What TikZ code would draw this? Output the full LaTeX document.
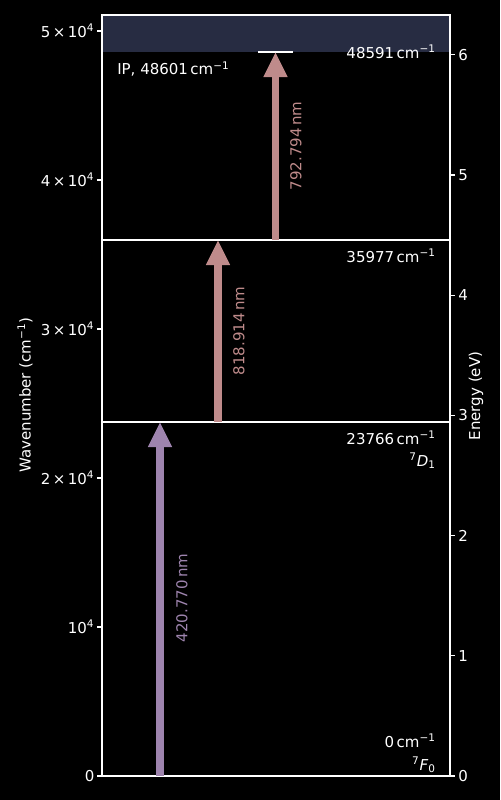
\documentclass[tikz,border=0pt]{standalone}
\usepackage{fontspec}
\setmainfont{DejaVu Sans}
\usetikzlibrary{arrows.meta}
\definecolor{ipband}{HTML}{272C42}
\definecolor{lilac}{HTML}{9E84AE}
\definecolor{rose}{HTML}{BF8B8B}

\tikzset{
  level/.style={draw=white, line width=1.5pt},
  axisline/.style={draw=white, line width=0.8pt},
  trans/.style={line width=5.6pt, -{Triangle[length=18pt,width=16pt]}},
  wavelab/.style={rotate=90, inner sep=0pt},
  lvllab/.style={anchor=east, inner sep=0pt},
}

\begin{document}
\begin{tikzpicture}[x=0.72pt, y=-0.72pt, font=\fontsize{10.8}{13}\selectfont, text=white]
        \useasboundingbox[fill=black] (0,0) rectangle (500,800);
        % ionisation continuum
        \fill[ipband] (102,15) rectangle (450,52);
        % axes
        \draw[axisline] (102,15) rectangle (450,776);
        \foreach \y/\lab [count=\i] in {776/0, 627/10\textsuperscript{4}, 478/2\,×\,10\textsuperscript{4},
            329/3\,×\,10\textsuperscript{4}, 180/4\,×\,10\textsuperscript{4}, 31/5\,×\,10\textsuperscript{4}}
          \draw[axisline] (102,\y) -- ++(-5,0) node[left, inner sep=1.5pt] (wtick\i) {\lab};
        \foreach \e in {0,...,6}
          \draw[axisline] (450,{776-120.2*\e}) -- ++(5,0) node[right, inner sep=2pt] (etick\e) {\e};
        \node[rotate=90] (wavenum) at (25,395) {Wavenumber (cm\textsuperscript{−1})};
        \node[rotate=90] (energy) at (476,396) {Energy (eV)};

        % levels
        \draw[level] (102,422) -- (450,422);
        \draw[level] (102,240) -- (450,240);
        \draw[level] (258,52) -- (293,52);

        % transitions
        \coordinate (lo1) at (160,776);  \coordinate (up1) at (160,422);
        \coordinate (lo2) at (218,422);  \coordinate (up2) at (218,240);
        \coordinate (lo3) at (275.5,240); \coordinate (up3) at (275.5,52);
        \draw[trans, lilac] (lo1) -- (up1);
        \draw[trans, rose] (lo2) -- (up2);
        \draw[trans, rose] (lo3) -- (up3);
        \node[wavelab, text=lilac] (nm1) at (182,598) {420.770\,nm};
        \node[wavelab, text=rose] (nm2) at (239,331) {818.914\,nm};
        \node[wavelab, text=rose] (nm3) at (296,146) {792.794\,nm};

        % level labels
        \node[lvllab] (g0) at (436,741) {0\,cm\textsuperscript{−1}};
        \node[lvllab] (g0t) at (436,765) {\textsuperscript{7}\textit{F}\textsubscript{0}};
        \node[lvllab] (d1) at (436,438) {23766\,cm\textsuperscript{−1}};
        \node[lvllab] (d1t) at (436,461) {\textsuperscript{7}\textit{D}\textsubscript{1}};
        \node[lvllab] (e2) at (436,256) {35977\,cm\textsuperscript{−1}};
        \node[lvllab] (e3) at (436,52) {48591\,cm\textsuperscript{−1}};
        \node[anchor=west, inner sep=0pt] (ip) at (117,69) {IP, 48601\,cm\textsuperscript{−1}};
      \end{tikzpicture}
\end{document}
